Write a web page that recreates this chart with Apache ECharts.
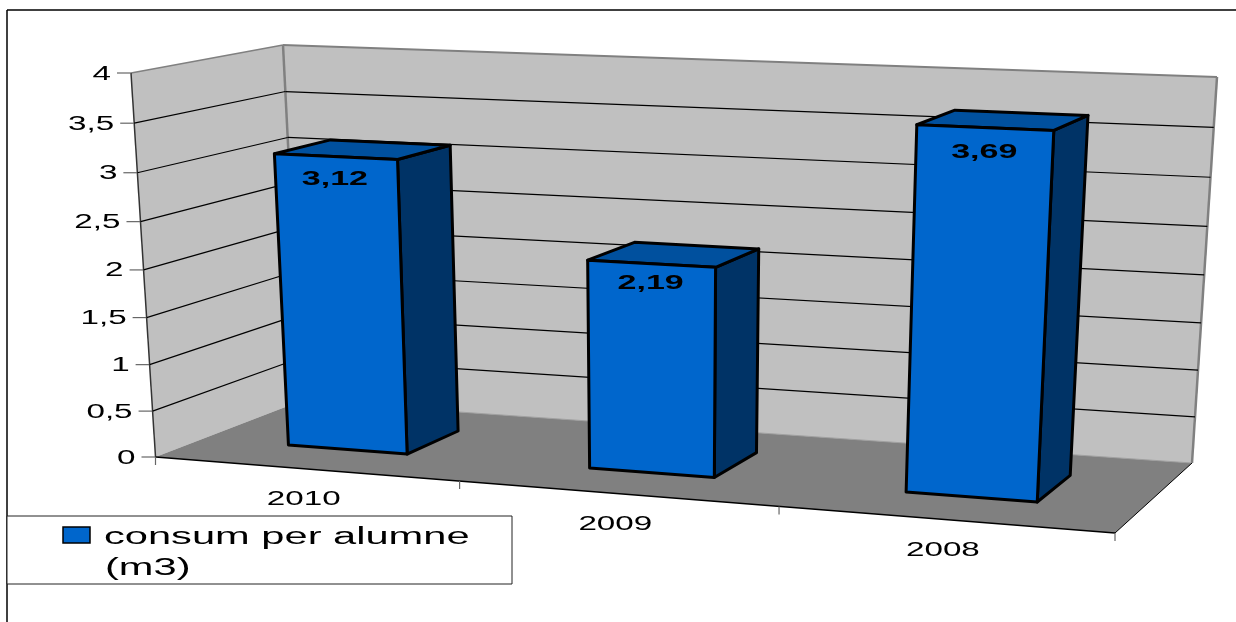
<!DOCTYPE html>
<html><head><meta charset="utf-8">
<style>html,body{margin:0;padding:0;background:#fff}#c{width:1236px;height:622px}</style>
<script src="https://cdn.jsdelivr.net/npm/echarts@6/dist/echarts.min.js"></script>
</head><body><div id="c"></div>
<script>
const categories = ['2010', '2009', '2008'];
const consum = [3.12, 2.19, 3.69];
const dataLabels = ['3,12', '2,19', '3,69'];
const yTicks = [0, 0.5, 1, 1.5, 2, 2.5, 3, 3.5, 4];
const yTickLabels = ['0', '0,5', '1', '1,5', '2', '2,5', '3', '3,5', '4'];
const seriesName = 'consum per alumne (m3)';
const legendLines = ['consum per alumne', '(m3)'];

// The perspective box: screen corners [front/back][bottom/top][left/right]
const box = {
  fbl: [155.5, 457], fbr: [1115, 533], ftl: [131, 73], ftr: [1137, 114],
  bbl: [301, 401], bbr: [1192, 463], btl: [283, 45], btr: [1217, 77]
};
const warpX = 0.928, warpY = 0.95, barRatio = 0.4, barDepth = [0.33, 0.72], barShift = -0.003;
const warp = (t, a) => a * t / (1 + (a - 1) * t);
const lerp = (p, q, k) => [p[0] + (q[0] - p[0]) * k, p[1] + (q[1] - p[1]) * k];
function project(t, v, d) {
  const u = warp(t, warpX), w = warp(v, warpY);
  const fb = lerp(box.fbl, box.fbr, u), ft = lerp(box.ftl, box.ftr, u);
  const bb = lerp(box.bbl, box.bbr, u), bt = lerp(box.btl, box.btr, u);
  return lerp(lerp(fb, ft, w), lerp(bb, bt, w), d);
}
const FONT = '"Liberation Sans", Arial, sans-serif';
function label(text, x, y, size, sx, opts) {
  opts = opts || {};
  return { type: 'text', x, y, scaleX: sx, silent: true,
    style: { text, font: (opts.bold ? 'bold ' : '') + size + 'px ' + FONT, fill: '#000',
      align: opts.align || 'center', verticalAlign: 'middle' } };
}
function poly(points, fill, stroke, lw) {
  return { type: 'polygon', shape: { points }, style: { fill: fill || 'none', stroke: stroke || 'none', lineWidth: lw || 0, lineJoin: 'round' } };
}
function line(a, b, stroke, lw) {
  return { type: 'line', shape: { x1: a[0], y1: a[1], x2: b[0], y2: b[1] }, style: { stroke, lineWidth: lw } };
}
// grid-space helpers: turn library coordinates into the unit cube
const toUnit = (cs, p) => [(p[0] - cs.x) / cs.width, (cs.y + cs.height - p[1]) / cs.height];

const option = {
  animation: false,
  backgroundColor: '#fff',
  grid: { left: 155, right: 121, top: 73, bottom: 165 },
  xAxis: { type: 'category', data: categories, show: false },
  yAxis: { type: 'value', min: 0, max: 4, interval: 0.5, show: false },
  graphic: [
    { type: 'line', z: 50, shape: { x1: 7, y1: 10, x2: 1236, y2: 10 }, style: { stroke: '#000', lineWidth: 1.5 } },
    { type: 'line', z: 50, shape: { x1: 7, y1: 10, x2: 7, y2: 622 }, style: { stroke: '#000', lineWidth: 1.5 } },
    { type: 'rect', z: 51, shape: { x: 7, y: 516, width: 505, height: 68 }, style: { fill: '#fff', stroke: '#222', lineWidth: 1 } },
    { type: 'rect', z: 52, shape: { x: 63, y: 527, width: 27, height: 16 }, style: { fill: '#0066CC', stroke: '#000', lineWidth: 1.5 } },
    Object.assign(label(legendLines[0], 104, 538, 23, 1.81, { align: 'left' }), { z: 52 }),
    Object.assign(label(legendLines[1], 105, 569, 23, 1.81, { align: 'left' }), { z: 52 })
  ],
  series: [
    { // walls and floor
      type: 'custom', coordinateSystem: 'cartesian2d', silent: true, z: 1,
      data: [[0, 0]],
      encode: { x: 0, y: 1 },
      renderItem() {
        const P = project;
        return { type: 'group', children: [
          poly([P(0,0,0), P(0,1,0), P(0,1,1), P(0,0,1)], '#C0C0C0'),
          poly([P(0,0,1), P(0,1,1), P(1,1,1), P(1,0,1)], '#C0C0C0'),
          poly([P(0,0,0), P(1,0,0), P(1,0,1), P(0,0,1)], '#808080'),
          line(P(0,1,0), P(0,1,1), '#808080', 1.5),
          line(P(0,1,1), P(1,1,1), '#808080', 2),
          line(P(0,1,1), P(0,0,1), '#808080', 2.5),
          line(P(1,1,1), P(1,0,1), '#808080', 2.5),
          line(P(0,0,1), P(1,0,1), '#A0A0A0', 1),
          line(P(0,1,0), P(0,0,0), '#333', 1.5),
          line(P(0,0,0), P(1,0,0), '#000', 1.5),
          line(P(1,0,0), P(1,0,1), '#000', 1)
        ] };
      }
    },
    { // value gridlines, ticks and tick labels
      type: 'custom', coordinateSystem: 'cartesian2d', silent: true, z: 2,
      data: yTicks.map((v, i) => [0, v, i]),
      encode: { x: 0, y: 1 },
      renderItem(params, api) {
        const cs = params.coordSys;
        const v = toUnit(cs, api.coord([0, api.value(1)]))[1];
        const a = project(0, v, 0), b = project(0, v, 1), c = project(1, v, 1);
        const kids = [
          line([a[0] - 14, a[1]], a, '#666', 1.2),
          label(yTickLabels[api.value(2)], a[0] - 20, a[1] + 1, 20, 1.66, { align: 'right' })
        ];
        if (v > 0.001 && v < 0.999) { kids.push(line(a, b, '#000', 1.2), line(b, c, '#000', 1.2)); }
        return { type: 'group', children: kids };
      }
    },
    { // category ticks and labels
      type: 'custom', coordinateSystem: 'cartesian2d', silent: true, z: 3,
      data: categories.map((c, i) => [i, 0]),
      encode: { x: 0, y: 1 },
      renderItem(params, api) {
        const cs = params.coordSys;
        const i = api.value(0), band = api.size([1, 0])[0] / cs.width;
        const tc = toUnit(cs, api.coord([i, 0]))[0];
        const edge = project(tc + band / 2, 0, 0), mid = project(tc, 0, 0);
        const kids = [
          line(edge, [edge[0], edge[1] + 8], '#666', 1.2),
          label(categories[i], mid[0] - 2, mid[1] + 31, 20, 1.66)
        ];
        if (i === 0) { const o = project(0, 0, 0); kids.push(line(o, [o[0], o[1] + 8], '#666', 1.2)); }
        return { type: 'group', children: kids };
      }
    },
    { // the bars
      name: seriesName,
      type: 'custom', coordinateSystem: 'cartesian2d', silent: true, z: 4,
      data: categories.map((c, i) => [i, consum[i]]),
      encode: { x: 0, y: 1 },
      renderItem(params, api) {
        const cs = params.coordSys;
        const i = api.value(0);
        const band = api.size([1, 0])[0] / cs.width;
        const u = toUnit(cs, api.coord([i, api.value(1)]));
        const tc = u[0] + barShift;
        const t0 = tc - band * barRatio / 2, t1 = tc + band * barRatio / 2, v = u[1];
        const [d0, d1] = barDepth;
        const P = project, S = '#000', W = 3;
        const topMid = lerp(P(t0, v, d0), P(t1, v, d0), 0.5);
        return { type: 'group', children: [
          poly([P(t1,0,d0), P(t1,v,d0), P(t1,v,d1), P(t1,0,d1)], '#003366', S, W),
          poly([P(t0,v,d0), P(t1,v,d0), P(t1,v,d1), P(t0,v,d1)], '#00509E', S, W),
          poly([P(t0,0,d0), P(t0,v,d0), P(t1,v,d0), P(t1,0,d0)], '#0066CC', S, W),
          label(dataLabels[i], topMid[0] - 1, topMid[1] + 13 + 13 * v, 20, 1.7, { bold: true })
        ] };
      }
    }
  ]
};
echarts.init(document.getElementById('c'), null, { renderer: 'canvas' }).setOption(option);
</script>
</body></html>
